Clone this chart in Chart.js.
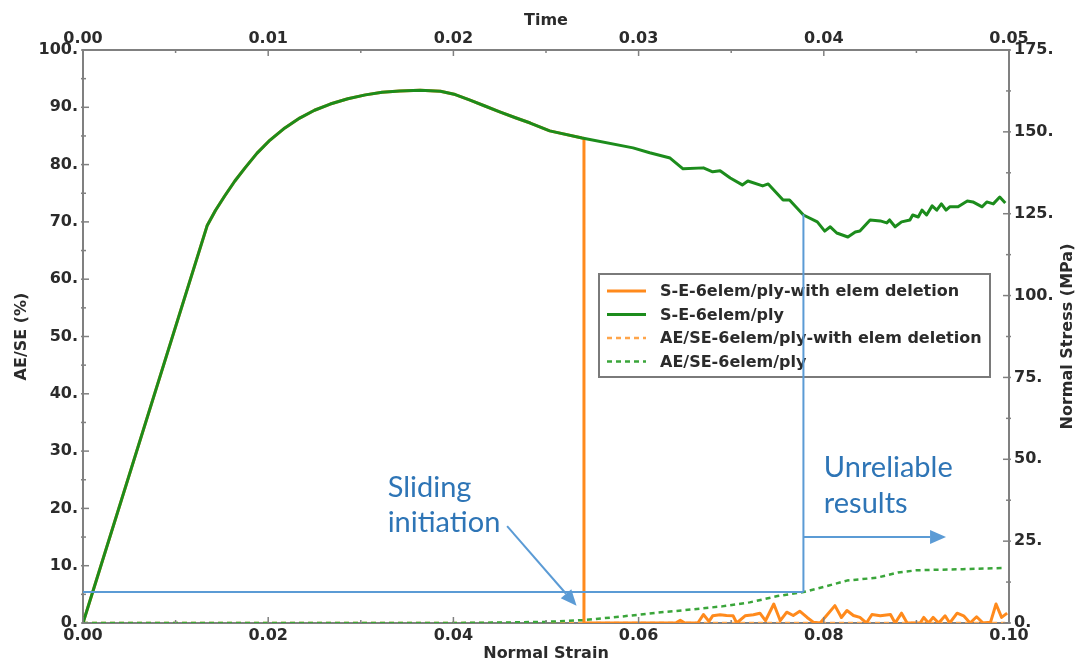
<!DOCTYPE html>
<html>
<head>
<meta charset="utf-8">
<script src="https://cdn.jsdelivr.net/npm/chart.js@4.4.0/dist/chart.umd.min.js"></script>
<style>
  html, body { margin: 0; padding: 0; background: #ffffff; }
  #wrap { width: 1082px; height: 664px; }
</style>
</head>
<body>
<div id="wrap"><canvas id="c" width="1082" height="664"></canvas></div>
<script>
// ---- Stress–strain, 6 elements per ply (normal strain / normal stress in MPa)
const strainSE = [0, 0.0134, 0.0143, 0.0153, 0.0164, 0.0175, 0.0188, 0.0202, 0.0218, 0.0234, 0.025, 0.0267,
  0.0286, 0.0305, 0.0323, 0.0342, 0.0364, 0.0386, 0.0402, 0.0418, 0.0434, 0.045, 0.0467, 0.0483, 0.0504,
  0.0539, 0.0594, 0.0612, 0.0634, 0.0648, 0.067, 0.068, 0.0688, 0.0699, 0.0712, 0.0718, 0.0734, 0.074,
  0.0756, 0.0763, 0.0778, 0.0793, 0.0801, 0.0807, 0.0814, 0.0826, 0.0834, 0.0839, 0.085, 0.0861, 0.0868,
  0.0871, 0.0877, 0.0884, 0.0893, 0.0896, 0.0902, 0.0906, 0.0911, 0.0917, 0.0922, 0.0927, 0.0932, 0.0936,
  0.0945, 0.0955, 0.0961, 0.0971, 0.0976, 0.0983, 0.099, 0.0996];
const stressSE = [0, 121.3, 126, 130.4, 135, 139, 143.5, 147.5, 151.2, 154.2, 156.6, 158.5,
  160.1, 161.3, 162.1, 162.5, 162.7, 162.4, 161.4, 159.7, 157.9, 156.1, 154.3, 152.7, 150.3,
  148.1, 145.1, 143.6, 142, 138.7, 139, 137.8, 138.1, 135.9, 133.8, 135, 133.5, 134.1,
  129.2, 129.2, 124.6, 122.5, 119.7, 121, 119.1, 117.9, 119.4, 119.7, 123.1, 122.8, 122.2,
  123.1, 121, 122.5, 123.1, 124.6, 124, 126.1, 124.6, 127.4, 126.1, 128, 126.1, 127.1,
  127.1, 128.9, 128.6, 127.1, 128.6, 128, 130.1, 128.3];

// ---- Same model with element deletion: identical up to sliding, then load collapses
const strainSEdel = [0.0541, 0.0640, 0.0645, 0.0650, 0.0664, 0.0670, 0.0676, 0.0680, 0.0688, 0.0695,
  0.0702, 0.0706, 0.0715, 0.0724, 0.0731, 0.0737, 0.0746, 0.0753, 0.0760, 0.0767, 0.0774, 0.0782,
  0.0789, 0.0796, 0.0803, 0.0812, 0.0819, 0.0825, 0.0832, 0.0839, 0.0846, 0.0852, 0.0861, 0.0872,
  0.0877, 0.0884, 0.0890, 0.0904, 0.0908, 0.0913, 0.0918, 0.0924, 0.0931, 0.0936, 0.0944, 0.0951,
  0.0958, 0.0965, 0.0972, 0.0980, 0.0986, 0.0992, 0.0998];
const stressSEdel = [0, 0, 0.8, 0, 0, 2.6, 0.5, 2.2, 2.5, 2.3,
  2.2, 0, 2.2, 2.5, 3.0, 0.7, 5.8, 0.7, 3.3, 2.3, 3.6, 1.7,
  0.2, 0, 2.3, 5.3, 1.7, 3.8, 2.3, 1.7, 0, 2.6, 2.2, 2.6,
  0, 3.0, 0, 0, 1.7, 0, 1.7, 0, 2.2, 0, 3.0, 2.2,
  0, 1.9, 0, 0.2, 5.8, 1.7, 3.0];

// ---- Artificial / strain energy ratio (%)
const strainAE = [0, 0.040, 0.046, 0.050, 0.054, 0.058, 0.062, 0.066, 0.069, 0.072, 0.075, 0.0778,
  0.080, 0.0825, 0.0857, 0.088, 0.090, 0.095, 0.0996];
const ratioAE = [0, 0, 0.1, 0.2, 0.5, 1.1, 1.8, 2.4, 2.9, 3.6, 4.7, 5.4,
  6.3, 7.4, 7.9, 8.8, 9.2, 9.4, 9.6];
const strainAEdel = [0, 0.0996];
const ratioAEdel = [0, 0];

// ---- Series names
const seriesNames = ['S-E-6elem/ply-with elem deletion', 'S-E-6elem/ply',
  'AE/SE-6elem/ply-with elem deletion', 'AE/SE-6elem/ply'];

// ---- Axis ticks
const strainTicks = [0, 0.02, 0.04, 0.06, 0.08, 0.10];
const strainTickLabels = ['0.00', '0.02', '0.04', '0.06', '0.08', '0.10'];
const timeTicks = [0, 0.01, 0.02, 0.03, 0.04, 0.05];
const timeTickLabels = ['0.00', '0.01', '0.02', '0.03', '0.04', '0.05'];
const ratioTicks = [0, 10, 20, 30, 40, 50, 60, 70, 80, 90, 100];
const ratioTickLabels = ['0.', '10.', '20.', '30.', '40.', '50.', '60.', '70.', '80.', '90.', '100.'];
const stressTicks = [0, 25, 50, 75, 100, 125, 150, 175];
const stressTickLabels = ['0.', '25.', '50.', '75.', '100.', '125.', '150.', '175.'];

// ---- Annotation anchors (strain, ratio % / stress MPa)
const slidingStrain = 0.0778;   // end of the reliable range
const slidingRatio = 5.4;       // horizontal guide level (%)
const slidingStress = 124.8;    // where the guide meets the stress curve
const arrowSliding = [[0.0458, 16.9], [0.0533, 3.0]];
const arrowUnreliable = [[0.0778, 15.0], [0.0932, 15.0]];
const noteSliding = { x: 0.0329, lines: [['Sliding', 23.7], ['initiation', 17.6]] };
const noteUnreliable = { x: 0.0800, lines: [['Unreliable', 27.2], ['results', 20.9]] };

const zip = (xs, ys) => xs.map((v, i) => ({ x: v, y: ys[i] }));

// Element-deletion curve = shared loading branch up to the drop, then residual load
const dropStrain = strainSEdel[0];
const preDrop = zip(strainSE, stressSE).filter(p => p.x <= dropStrain);
const delCurve = preDrop.concat([{ x: dropStrain, y: 148.0 }], zip(strainSEdel, stressSEdel));

const ORANGE = '#ff8a1c';
const GREEN = '#1c8c1c';
const ORANGE_D = '#ffa54a';
const GREEN_D = '#3aa53a';
const BLUE = '#5b9bd5';
const BLUE_TXT = '#2e75b6';
const AXIS = '#808080';
const INK = '#2b2b2b';
const TICK_FONT = { family: 'DejaVu Sans', size: 16, weight: 'bold' };

const lineStyles = [
  { color: ORANGE, dash: [], width: 3 },
  { color: GREEN, dash: [], width: 3 },
  { color: ORANGE_D, dash: [5, 4], width: 2.5 },
  { color: GREEN_D, dash: [5, 4], width: 2.5 }
];

// Inward tick marks on all four axes (major + half-step minor)
const innerTicks = {
  id: 'innerTicks',
  afterDatasetsDraw(chart) {
    const { ctx, chartArea: a } = chart;
    ctx.save();
    ctx.strokeStyle = AXIS;
    ctx.lineWidth = 1.5;
    const mark = (scale, v, len) => {
      const p = scale.getPixelForValue(v);
      ctx.beginPath();
      if (scale.id === 'x') { ctx.moveTo(p, a.bottom + 1); ctx.lineTo(p, a.bottom - len); }
      else if (scale.id === 'xTop') { ctx.moveTo(p, a.top - 1); ctx.lineTo(p, a.top + len); }
      else if (scale.id === 'yL') { ctx.moveTo(a.left - 2, p); ctx.lineTo(a.left + len, p); }
      else { ctx.moveTo(a.right + 2, p); ctx.lineTo(a.right - len, p); }
      ctx.stroke();
    };
    ['x', 'xTop', 'yL', 'yR'].forEach(id => {
      const s = chart.scales[id];
      const vals = s.ticks.map(t => t.value);
      vals.forEach((v, i) => {
        mark(s, v, 6);
        if (i < vals.length - 1) mark(s, (v + vals[i + 1]) / 2, 3);
      });
    });
    ctx.restore();
  }
};

// Boxed legend, guide lines, arrows and notes
const overlay = {
  id: 'overlay',
  afterDatasetsDraw(chart) {
    const { ctx, chartArea: a } = chart;
    const x = chart.scales.x, yL = chart.scales.yL, yR = chart.scales.yR;
    ctx.save();

    // legend box
    const lx = 599, ly = 274, lw = 391, lh = 103;
    ctx.fillStyle = '#ffffff';
    ctx.fillRect(lx, ly, lw, lh);
    ctx.strokeStyle = '#7a7a7a';
    ctx.lineWidth = 2;
    ctx.strokeRect(lx, ly, lw, lh);
    ctx.font = 'bold 16px "DejaVu Sans"';
    ctx.textBaseline = 'middle';
    ctx.textAlign = 'left';
    chart.data.datasets.forEach((ds, i) => {
      const st = lineStyles[i];
      const ry = ly + 17 + i * 23.5;
      ctx.beginPath();
      ctx.setLineDash(st.dash);
      ctx.strokeStyle = st.color;
      ctx.lineWidth = st.width;
      ctx.moveTo(lx + 8, ry);
      ctx.lineTo(lx + 47, ry);
      ctx.stroke();
      ctx.setLineDash([]);
      ctx.fillStyle = INK;
      ctx.fillText(ds.label, lx + 61, ry + 1);
    });

    // guide lines
    ctx.strokeStyle = BLUE;
    ctx.fillStyle = BLUE;
    ctx.lineWidth = 2;
    const gx = x.getPixelForValue(slidingStrain);
    const gy = yL.getPixelForValue(slidingRatio);
    ctx.beginPath();
    ctx.moveTo(x.getPixelForValue(0), gy);
    ctx.lineTo(gx, gy);
    ctx.moveTo(gx, gy);
    ctx.lineTo(gx, yR.getPixelForValue(slidingStress));
    ctx.stroke();

    const arrow = (pts) => {
      const x0 = x.getPixelForValue(pts[0][0]), y0 = yL.getPixelForValue(pts[0][1]);
      const x1 = x.getPixelForValue(pts[1][0]), y1 = yL.getPixelForValue(pts[1][1]);
      const ang = Math.atan2(y1 - y0, x1 - x0);
      const hl = 16, hw = 7;
      const bx = x1 - hl * Math.cos(ang), by = y1 - hl * Math.sin(ang);
      ctx.beginPath();
      ctx.moveTo(x0, y0);
      ctx.lineTo(bx, by);
      ctx.stroke();
      ctx.beginPath();
      ctx.moveTo(x1, y1);
      ctx.lineTo(bx + hw * Math.sin(ang), by - hw * Math.cos(ang));
      ctx.lineTo(bx - hw * Math.sin(ang), by + hw * Math.cos(ang));
      ctx.closePath();
      ctx.fill();
    };
    arrow(arrowSliding);
    arrow(arrowUnreliable);

    // notes
    ctx.fillStyle = BLUE_TXT;
    ctx.font = '29px Lato';
    ctx.textBaseline = 'middle';
    [noteSliding, noteUnreliable].forEach(n => {
      const px = x.getPixelForValue(n.x);
      n.lines.forEach(([t, v]) => ctx.fillText(t, px, yL.getPixelForValue(v)));
    });

    // right axis title, reading upward
    ctx.fillStyle = INK;
    ctx.font = 'bold 16px "DejaVu Sans"';
    ctx.textAlign = 'center';
    ctx.translate(1068, (a.top + a.bottom) / 2);
    ctx.rotate(-Math.PI / 2);
    ctx.fillText('Normal Stress (MPa)', 0, 0);
    ctx.restore();
  }
};

const fixedTicks = (vals) => (s) => { s.ticks = vals.map(v => ({ value: v })); };

new Chart(document.getElementById('c'), {
  type: 'line',
  data: {
    datasets: [
      { label: seriesNames[0], data: delCurve, yAxisID: 'yR', xAxisID: 'x',
        borderColor: ORANGE, borderWidth: 3, order: 1 },
      { label: seriesNames[1], data: zip(strainSE, stressSE), yAxisID: 'yR', xAxisID: 'x',
        borderColor: GREEN, borderWidth: 3, order: 0 },
      { label: seriesNames[2], data: zip(strainAEdel, ratioAEdel), yAxisID: 'yL', xAxisID: 'x',
        borderColor: ORANGE_D, borderWidth: 2.5, borderDash: [5, 4], order: 3 },
      { label: seriesNames[3], data: zip(strainAE, ratioAE), yAxisID: 'yL', xAxisID: 'x',
        borderColor: GREEN_D, borderWidth: 2.5, borderDash: [5, 4], order: 2 }
    ]
  },
  options: {
    responsive: false,
    animation: false,
    events: [],
    layout: { padding: 0 },
    elements: {
      point: { radius: 0 },
      line: { tension: 0, borderJoinStyle: 'round', borderCapStyle: 'butt', fill: false }
    },
    plugins: { legend: { display: false }, tooltip: { enabled: false } },
    scales: {
      x: {
        type: 'linear', position: 'bottom', min: 0, max: 0.1,
        afterBuildTicks: fixedTicks(strainTicks),
        afterFit: s => { s.height = 41; },
        grid: { display: false, drawTicks: false },
        border: { display: true, color: AXIS, width: 2 },
        ticks: { font: TICK_FONT, color: INK, padding: 3, maxRotation: 0, autoSkip: false,
          callback: (v, i) => strainTickLabels[i] },
        title: { display: true, text: 'Normal Strain', font: TICK_FONT, color: INK,
          padding: { top: 0, bottom: 1 } }
      },
      xTop: {
        type: 'linear', position: 'top', min: 0, max: 0.05,
        afterBuildTicks: fixedTicks(timeTicks),
        afterFit: s => { s.height = 50; },
        grid: { display: false, drawTicks: false },
        border: { display: true, color: AXIS, width: 2 },
        ticks: { font: TICK_FONT, color: INK, padding: 2, maxRotation: 0, autoSkip: false,
          callback: (v, i) => timeTickLabels[i] },
        title: { display: true, text: 'Time', font: TICK_FONT, color: INK,
          padding: { top: 11, bottom: 0 } }
      },
      yL: {
        type: 'linear', position: 'left', min: 0, max: 100,
        afterBuildTicks: fixedTicks(ratioTicks),
        afterFit: s => { s.width = 83; },
        grid: { display: false, drawTicks: false },
        border: { display: true, color: AXIS, width: 2 },
        ticks: { font: TICK_FONT, color: INK, padding: 5, autoSkip: false,
          callback: (v, i) => ratioTickLabels[i] },
        title: { display: true, text: 'AE/SE (%)', font: TICK_FONT, color: INK,
          padding: { top: 12, bottom: 0 } }
      },
      yR: {
        type: 'linear', position: 'right', min: 0, max: 175,
        afterBuildTicks: fixedTicks(stressTicks),
        afterFit: s => { s.width = 73; },
        grid: { display: false, drawTicks: false },
        border: { display: true, color: AXIS, width: 2 },
        ticks: { font: TICK_FONT, color: INK, padding: 5, autoSkip: false,
          callback: (v, i) => stressTickLabels[i] }
      }
    }
  },
  plugins: [innerTicks, overlay]
});
</script>
</body>
</html>
